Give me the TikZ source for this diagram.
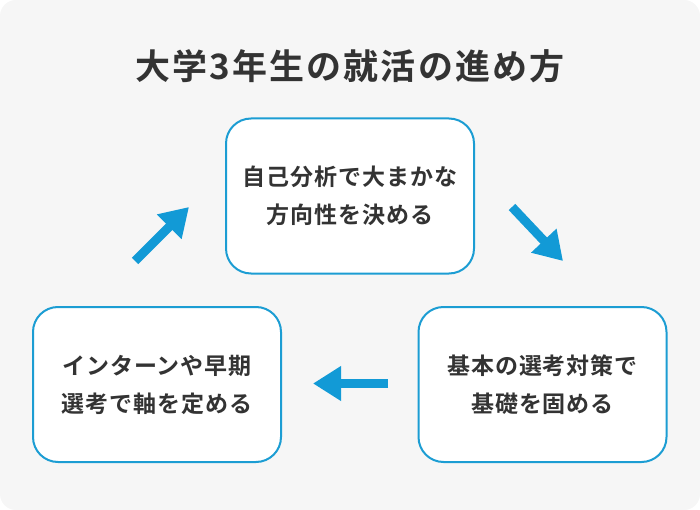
\documentclass[tikz,border=0pt]{standalone}
\usepackage{fontspec}
\newfontfamily\jpbold[BoldFont={Noto Sans CJK JP Bold}]{Noto Sans CJK JP Bold}
\usetikzlibrary{arrows.meta}
\definecolor{bggray}{HTML}{F6F6F6}
\definecolor{stepblue}{HTML}{1C9DD3}
\definecolor{arrowblue}{HTML}{129AD6}
\definecolor{textgray}{HTML}{333333}

\begin{document}
\begin{tikzpicture}[x=1pt,y=-1pt]
\tikzset{
  stepbox/.style={rectangle,draw=stepblue,line width=2pt,fill=white,rounded corners=25pt,
    minimum width=248pt,minimum height=155pt,align=center,text=textgray,
    font=\jpbold\fontsize{23pt}{38pt}\selectfont\addfontfeature{LetterSpace=4}},
  titletext/.style={text=textgray,font=\jpbold\fontsize{35pt}{40pt}\selectfont\addfontfeature{LetterSpace=6}},
  flow/.style={-{Triangle[length=28pt,width=33pt]},draw=arrowblue,line width=9pt}
}
\useasboundingbox (0,0) rectangle (700,510);
\fill[bggray,rounded corners=16pt] (0,0) rectangle (700,510);
\node[titletext] (n_title) at (350,66) {大学3年生の就活の進め方};
\node[stepbox] (n_top) at (350,196) {自己分析で大まかな\\方向性を決める};
\node[stepbox] (n_right) at (542.5,384.5) {基本の選考対策で\\基礎を固める};
\node[stepbox] (n_left) at (157,384.5) {インターンや早期\\選考で軸を定める};
\coordinate (a_top_s) at (512,207);
\coordinate (a_top_e) at (563,261);
\coordinate (a_mid_s) at (388,383.5);
\coordinate (a_mid_e) at (313,383.5);
\coordinate (a_left_s) at (135,261);
\coordinate (a_left_e) at (189,207);
\draw[flow] (a_top_s) -- (a_top_e);
\draw[flow] (a_mid_s) -- (a_mid_e);
\draw[flow] (a_left_s) -- (a_left_e);
\end{tikzpicture}
\end{document}
